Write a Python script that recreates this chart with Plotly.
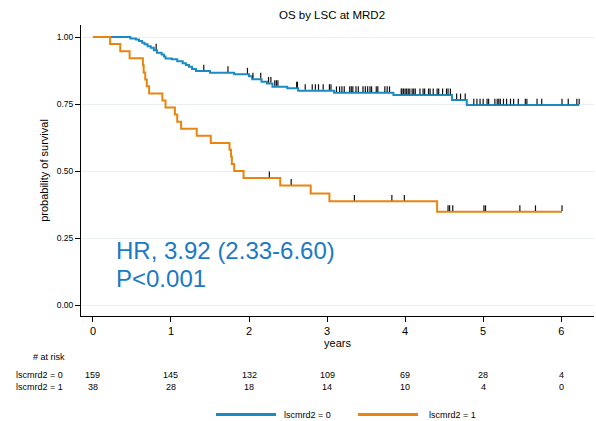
import plotly.graph_objects as go
import numpy as np

# ---------------- data ----------------
title = "OS by LSC at MRD2"
group_labels = ["lscmrd2 = 0", "lscmrd2 = 1"]

# group 0: KM step times and survival after each step
times_0 = [0.48, 0.55, 0.59, 0.63, 0.66, 0.70, 0.74, 0.78, 0.82, 0.88, 0.91, 0.93,
           1.01, 1.08, 1.15, 1.19, 1.23, 1.27, 1.32, 1.50, 1.81, 2.00, 2.04, 2.16,
           2.23, 2.30, 2.49, 2.63, 3.09, 3.85, 4.60, 4.79]
surv_0 = [0.995, 0.991, 0.985, 0.979, 0.973, 0.966, 0.960, 0.951, 0.941, 0.935, 0.927, 0.920,
          0.917, 0.910, 0.902, 0.896, 0.889, 0.881, 0.873, 0.867, 0.861, 0.854, 0.843, 0.833,
          0.827, 0.815, 0.809, 0.800, 0.792, 0.784, 0.765, 0.746]
end_0 = 6.23
cens_0 = [0.81, 1.42, 1.73, 1.98, 2.05, 2.15, 2.25, 2.28, 2.33, 2.35, 2.37, 2.61, 2.62,
          2.72, 2.81, 2.85, 2.89, 2.95, 3.03, 3.05, 3.12, 3.16, 3.19, 3.22, 3.29, 3.31,
          3.33, 3.37, 3.40, 3.46, 3.49, 3.52, 3.55, 3.57, 3.63, 3.65, 3.74, 3.77, 3.80,
          3.95, 3.96, 3.98, 4.00, 4.02, 4.04, 4.06, 4.09, 4.11, 4.13, 4.19, 4.23, 4.25,
          4.30, 4.32, 4.36, 4.41, 4.43, 4.48, 4.53, 4.55, 4.58, 4.66, 4.71, 4.77,
          4.88, 4.92, 4.96, 5.00, 5.05, 5.07, 5.15, 5.18, 5.20, 5.22, 5.26, 5.30, 5.35,
          5.39, 5.45, 5.54, 5.56, 5.69, 5.75, 6.01, 6.09, 6.20, 6.23]

# group 1
times_1 = [0.22, 0.35, 0.47, 0.64, 0.65, 0.67, 0.69, 0.72, 0.89, 0.93, 1.05, 1.08,
           1.13, 1.33, 1.51, 1.75, 1.77, 1.78, 1.81, 1.93, 2.40, 2.79, 3.03, 4.41]
surv_1 = [0.974, 0.947, 0.921, 0.895, 0.868, 0.842, 0.816, 0.789, 0.763, 0.737, 0.711, 0.684,
          0.658, 0.632, 0.605, 0.579, 0.553, 0.526, 0.500, 0.474, 0.446, 0.416, 0.387, 0.348]
end_1 = 6.01
cens_1 = [2.26, 2.54, 3.35, 3.83, 3.99, 4.55, 4.57, 4.61, 5.01, 5.03, 5.47, 5.67, 6.01]

# number at risk table
risk_times = [0, 1, 2, 3, 4, 5, 6]
risk_0 = [159, 145, 132, 109, 69, 28, 4]
risk_1 = [38, 28, 18, 14, 10, 4, 0]

x_ticks = [0, 1, 2, 3, 4, 5, 6]
y_ticks = [0, 0.25, 0.5, 0.75, 1.0]
y_ticktext = ["0.00", "0.25", "0.50", "0.75", "1.00"]

hr_text = "HR, 3.92 (2.33-6.60)"
p_text = "P<0.001"

# ---------------- styling ----------------
FONT = "Liberation Sans, Arial, Helvetica, sans-serif"
BLUE = "#1a8bc3"
ORANGE = "#e8850f"
TXTBLUE = "#1a7ac4"
W, H = 596, 421
ML, MR, MT, MB = 81, 2, 25, 105
PW, PH = W - ML - MR, H - MT - MB


def px_x(px):
    return (px - ML) / PW


def px_y(py):
    return (H - MB - py) / PH


def km_xy(times, surv, end):
    xs = [0.0] + list(times) + [end]
    ys = [1.0] + list(surv) + [surv[-1]]
    return xs, ys


def surv_at(t, times, surv):
    s = 1.0
    for ti, si in zip(times, surv):
        if ti <= t:
            s = si
    return s


def cens_segments(cens, times, surv, h=0.021):
    xs, ys = [], []
    for c in cens:
        s = surv_at(c, times, surv)
        xs += [c, c, None]
        ys += [s + 0.003, s + 0.003 + h, None]
    return xs, ys


fig = go.Figure()
for times, surv, end, cens, col, name in [
    (times_0, surv_0, end_0, cens_0, BLUE, group_labels[0]),
    (times_1, surv_1, end_1, cens_1, ORANGE, group_labels[1]),
]:
    xs, ys = km_xy(times, surv, end)
    fig.add_trace(go.Scatter(x=xs, y=ys, mode="lines", line=dict(color=col, width=2, shape="hv"),
                             name=name, showlegend=False, hoverinfo="skip"))
    cx, cy = cens_segments(cens, times, surv)
    fig.add_trace(go.Scatter(x=cx, y=cy, mode="lines", line=dict(color="#111111", width=1.2),
                             showlegend=False, hoverinfo="skip"))

annotations = []
# HR / P text
annotations.append(dict(x=0.27, y=0.205, xref="x", yref="y", text=hr_text, showarrow=False,
                        xanchor="left", yanchor="middle", font=dict(size=24, color=TXTBLUE, family=FONT)))
annotations.append(dict(x=0.27, y=0.098, xref="x", yref="y", text=p_text, showarrow=False,
                        xanchor="left", yanchor="middle", font=dict(size=24, color=TXTBLUE, family=FONT)))

# risk table
small = dict(size=9, color="black", family=FONT)
annotations.append(dict(x=px_x(49), y=px_y(357), xref="paper", yref="paper", text="# at risk",
                        showarrow=False, xanchor="center", yanchor="middle", font=small))
for lab, row, py in [(group_labels[0], risk_0, 375), (group_labels[1], risk_1, 387)]:
    annotations.append(dict(x=px_x(14), y=px_y(py), xref="paper", yref="paper", text=lab,
                            showarrow=False, xanchor="left", yanchor="middle", font=small))
    for t, n in zip(risk_times, row):
        annotations.append(dict(x=t, y=px_y(py), xref="x", yref="paper", text=str(n),
                                showarrow=False, xanchor="center", yanchor="middle", font=small))

# manual legend
shapes = []
for (x0, x1, tx), col, lab in [((216, 276, 282), BLUE, group_labels[0]),
                                ((358, 418, 427), ORANGE, group_labels[1])]:
    shapes.append(dict(type="line", xref="paper", yref="paper", x0=px_x(x0), x1=px_x(x1),
                       y0=px_y(414.5), y1=px_y(414.5), line=dict(color=col, width=3)))
    annotations.append(dict(x=px_x(tx), y=px_y(414.5), xref="paper", yref="paper", text=lab,
                            showarrow=False, xanchor="left", yanchor="middle", font=small))

fig.update_layout(
    width=W, height=H, autosize=False,
    margin=dict(l=ML, r=MR, t=MT, b=MB, pad=0),
    paper_bgcolor="white", plot_bgcolor="white",
    font=dict(family=FONT, color="black"),
    title=dict(text=title, x=332 / W, xref="container", xanchor="center",
               y=1 - 15 / H, yref="container", yanchor="middle",
               font=dict(size=11.5, family=FONT, color="black")),
    showlegend=False,
    annotations=annotations,
    shapes=shapes,
    xaxis=dict(range=[-0.153, 6.42], tickvals=x_ticks, ticks="outside", ticklen=5, tickwidth=1,
               tickcolor="black", showline=True, linecolor="black", linewidth=1, mirror=False,
               showgrid=False, zeroline=False, tickfont=dict(size=11, family=FONT, color="black"),
               title=dict(text="years", standoff=2, font=dict(size=11, family=FONT, color="black"))),
    yaxis=dict(range=[-0.041, 1.045], tickvals=y_ticks, ticktext=y_ticktext, ticks="outside",
               ticklen=5, tickwidth=1, tickcolor="black", showline=True, linecolor="black",
               linewidth=1, showgrid=True, gridcolor="#eaf0f1", gridwidth=1, zeroline=False,
               tickfont=dict(size=8.5, family=FONT, color="black"),
               title=dict(text="probability of survival", standoff=5,
                          font=dict(size=11, family=FONT, color="black"))),
)

fig.write_html("out.html")
